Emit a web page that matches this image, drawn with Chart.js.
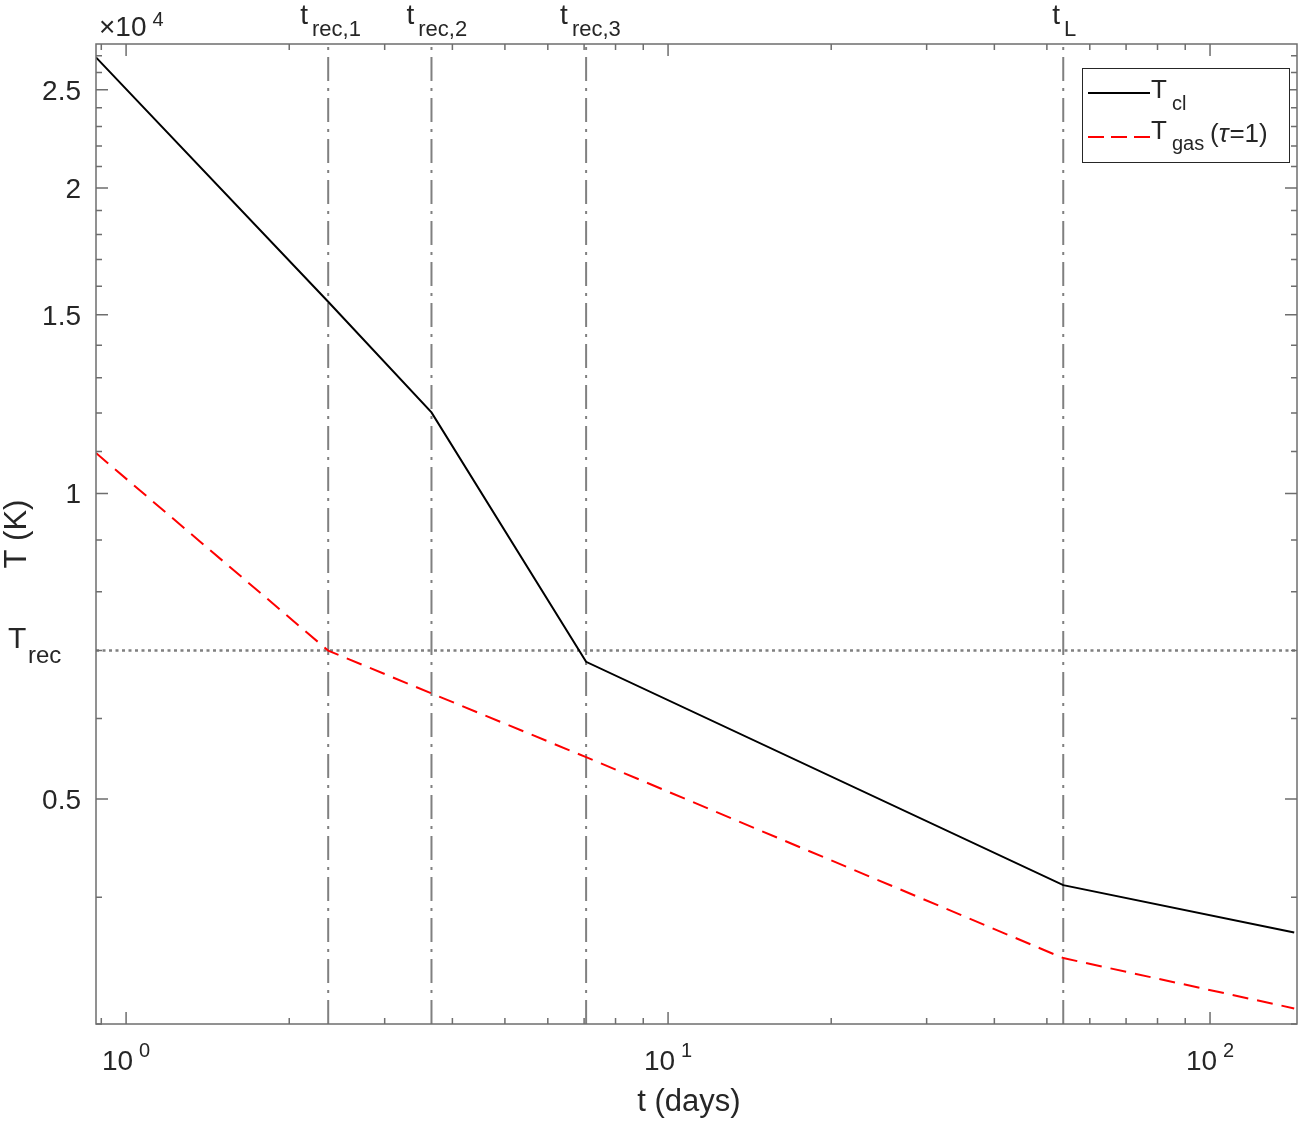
<!DOCTYPE html>
<html>
<head>
<meta charset="utf-8">
<script src="https://cdn.jsdelivr.net/npm/chart.js@4.4.0/dist/chart.umd.min.js"></script>
<style>
  html, body { margin: 0; padding: 0; background: #fff; }
  canvas { display: block; }
</style>
</head>
<body>
<canvas id="tempChart" width="1306" height="1124"></canvas>
<script>
// time in days, temperature in K
const tCl = [0.88, 2.36, 3.66, 7.06, 53.6, 143];
const TCl = [26900, 15450, 12020, 6824, 4111, 3693];
const tGas = [0.88, 2.36, 3.66, 7.06, 53.6, 143];
const TGas = [10960, 7000, 6352, 5497, 3484, 3108];

const tRec = [2.36, 3.66, 7.06];
const tL = 53.6;
const Trec = 7000;

const xLimits = [0.88, 144.7];
const yLimits = [3000, 27730];

const xMajorTicks = [1, 10, 100];
const xMajorExp = ['0', '1', '2'];
const xMinorTicks = [0.9, 2, 3, 4, 5, 6, 7, 8, 9, 20, 30, 40, 50, 60, 70, 80, 90];
const yMajorTicks = [5000, 10000, 15000, 20000, 25000];
const yTickLabels = ['0.5', '1', '1.5', '2', '2.5'];
const yMinorTicks = [3000, 4000, 6000, 7000, 8000, 9000, 11000, 12000, 13000, 14000, 16000, 17000,
    18000, 19000, 21000, 22000, 23000, 24000, 26000, 27000];
const markerNames = [['t', 'rec,1'], ['t', 'rec,2'], ['t', 'rec,3'], ['t', 'L']];

const FONT = '"Liberation Sans", Arial, Helvetica, sans-serif';
const AXIS_COLOR = '#6e6e6e';
const TEXT_COLOR = '#262626';

function pts(xs, ys) {
    return xs.map((x, i) => ({ x: x, y: ys[i] }));
}

const markerTimes = tRec.concat([tL]);
const vLineSets = markerTimes.map(t => ({
    data: [{ x: t, y: yLimits[0] }, { x: t, y: yLimits[1] }],
    borderColor: '#808080',
    borderWidth: 2,
    borderDash: [24, 7, 3, 7],
    pointRadius: 0,
    showLine: true
}));

// axes, ticks, labels and legend drawn by hand (MATLAB look)
const matlabAxes = {
    id: 'matlabAxes',
    afterDraw(chart) {
        const ctx = chart.ctx;
        const a = chart.chartArea;
        const xs = chart.scales.x, ys = chart.scales.y;
        ctx.save();

        // box
        ctx.strokeStyle = AXIS_COLOR;
        ctx.lineWidth = 1.5;
        ctx.setLineDash([]);
        ctx.strokeRect(a.left, a.top, a.right - a.left, a.bottom - a.top);

        // ticks
        ctx.beginPath();
        const xt = (v, len) => {
            const px = xs.getPixelForValue(v);
            ctx.moveTo(px, a.bottom); ctx.lineTo(px, a.bottom - len);
            ctx.moveTo(px, a.top); ctx.lineTo(px, a.top + len);
        };
        const yt = (v, len) => {
            const py = ys.getPixelForValue(v);
            ctx.moveTo(a.left, py); ctx.lineTo(a.left + len, py);
            ctx.moveTo(a.right, py); ctx.lineTo(a.right - len, py);
        };
        xMajorTicks.forEach(v => xt(v, 12));
        xMinorTicks.forEach(v => xt(v, 6));
        yMajorTicks.forEach(v => yt(v, 12));
        yMinorTicks.forEach(v => yt(v, 6));
        ctx.stroke();

        ctx.fillStyle = TEXT_COLOR;
        ctx.textBaseline = 'alphabetic';

        // y tick labels
        ctx.font = '28px ' + FONT;
        ctx.textAlign = 'right';
        yMajorTicks.forEach((v, i) => {
            ctx.fillText(yTickLabels[i], a.left - 15, ys.getPixelForValue(v) + 10);
        });

        // x tick labels 10^n
        ctx.textAlign = 'left';
        xMajorTicks.forEach((v, i) => {
            const px = xs.getPixelForValue(v);
            ctx.font = '28px ' + FONT;
            const w1 = ctx.measureText('10').width;
            ctx.font = '20px ' + FONT;
            const w2 = ctx.measureText(xMajorExp[i]).width;
            const sx = px - (w1 + 6 + w2) / 2;
            ctx.font = '28px ' + FONT;
            ctx.fillText('10', sx, a.bottom + 46);
            ctx.font = '20px ' + FONT;
            ctx.fillText(xMajorExp[i], sx + w1 + 6, a.bottom + 33);
        });

        // exponent multiplier
        ctx.font = '28px ' + FONT;
        ctx.fillText('\u00d710', a.left + 3, a.top - 8);
        const wm = ctx.measureText('\u00d710').width;
        ctx.font = '20px ' + FONT;
        ctx.fillText('4', a.left + 3 + wm + 6, a.top - 18);

        // axis titles
        ctx.font = '31px ' + FONT;
        ctx.textAlign = 'center';
        ctx.fillText('t (days)', 689, 1111);
        ctx.save();
        ctx.translate(26, (a.top + a.bottom) / 2);
        ctx.rotate(-Math.PI / 2);
        ctx.fillText('T (K)', 0, 0);
        ctx.restore();

        // marker labels above plot
        ctx.textAlign = 'left';
        const offs = [-28, -25, -26, -11];
        markerTimes.forEach((t, i) => {
            const px = xs.getPixelForValue(t) + offs[i];
            ctx.font = '28px ' + FONT;
            ctx.fillText(markerNames[i][0], px, a.top - 20);
            const w = ctx.measureText(markerNames[i][0]).width;
            ctx.font = '22px ' + FONT;
            ctx.fillText(markerNames[i][1], px + w + 4, a.top - 8);
        });

        // T_rec label
        const pyRec = ys.getPixelForValue(Trec);
        ctx.font = '30px ' + FONT;
        ctx.fillText('T', 8, pyRec - 3);
        ctx.font = '24px ' + FONT;
        ctx.fillText('rec', 28, pyRec + 12);

        // legend
        const L = { x: 1082, y: 68, w: 207, h: 94 };
        ctx.fillStyle = '#ffffff';
        ctx.fillRect(L.x, L.y, L.w, L.h);
        ctx.strokeStyle = '#262626';
        ctx.lineWidth = 1;
        ctx.strokeRect(L.x + 0.5, L.y + 0.5, L.w, L.h);

        ctx.lineWidth = 2;
        ctx.strokeStyle = '#000000';
        ctx.beginPath(); ctx.moveTo(1088, 93); ctx.lineTo(1150, 93); ctx.stroke();
        ctx.strokeStyle = '#ff0000';
        ctx.setLineDash([16, 7]);
        ctx.beginPath(); ctx.moveTo(1088, 137); ctx.lineTo(1150, 137); ctx.stroke();
        ctx.setLineDash([]);

        ctx.fillStyle = TEXT_COLOR;
        ctx.font = '26px ' + FONT;
        ctx.fillText('T', 1151, 98);
        ctx.fillText('T', 1151, 139);
        ctx.font = '20px ' + FONT;
        ctx.fillText('cl', 1172, 110);
        ctx.fillText('gas', 1172, 150);
        let lx = 1210;
        ctx.font = '26px ' + FONT;
        ctx.fillText('(', lx, 142); lx += ctx.measureText('(').width;
        ctx.font = 'italic 26px ' + FONT;
        ctx.fillText('\u03c4', lx, 142); lx += ctx.measureText('\u03c4').width + 1;
        ctx.font = '26px ' + FONT;
        ctx.fillText('=1)', lx, 142);

        ctx.restore();
    }
};

new Chart(document.getElementById('tempChart'), {
    type: 'scatter',
    data: {
        datasets: [
            {
                label: 'T_cl',
                data: pts(tCl, TCl),
                borderColor: '#000000',
                borderWidth: 2,
                pointRadius: 0,
                showLine: true
            },
            {
                label: 'T_gas (tau=1)',
                data: pts(tGas, TGas),
                borderColor: '#ff0000',
                borderWidth: 2,
                borderDash: [16, 9],
                pointRadius: 0,
                showLine: true
            },
            {
                label: 'T_rec',
                data: [{ x: xLimits[0], y: Trec }, { x: xLimits[1], y: Trec }],
                borderColor: '#808080',
                borderWidth: 2.5,
                borderDash: [3, 3.5],
                pointRadius: 0,
                showLine: true
            }
        ].concat(vLineSets)
    },
    options: {
        responsive: false,
        animation: false,
        layout: {
            padding: { left: 96, top: 44, right: 9, bottom: 100 }
        },
        plugins: {
            legend: { display: false },
            tooltip: { enabled: false }
        },
        scales: {
            x: {
                type: 'logarithmic',
                display: false,
                min: xLimits[0],
                max: xLimits[1]
            },
            y: {
                type: 'logarithmic',
                display: false,
                min: yLimits[0],
                max: yLimits[1]
            }
        }
    },
    plugins: [matlabAxes]
});
</script>
</body>
</html>
